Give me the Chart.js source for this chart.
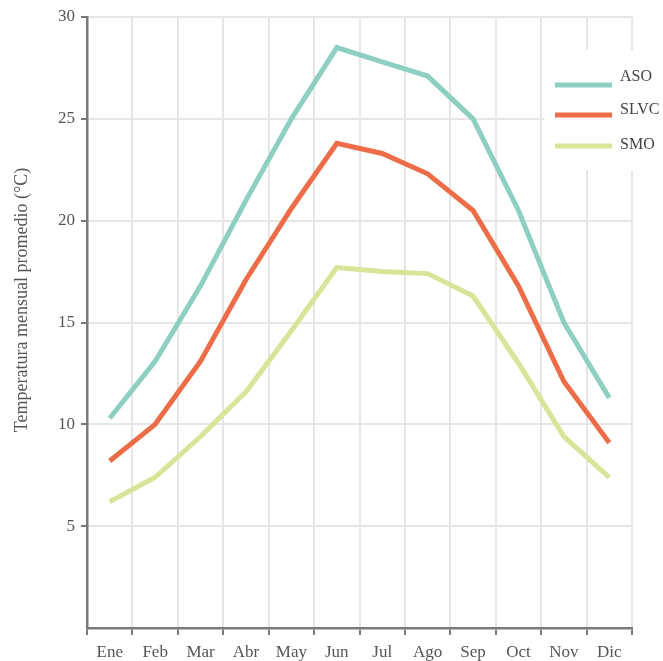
<!DOCTYPE html>
<html>
<head>
<meta charset="utf-8">
<title>Temperatura mensual promedio</title>
<script src="https://cdn.jsdelivr.net/npm/chart.js@4/dist/chart.umd.min.js"></script>
<style>
  html, body { margin:0; padding:0; background:#fff; }
  #wrap { width:663px; height:661px; position:relative; }
</style>
</head>
<body>
<div id="wrap"><canvas id="tempChart" width="663" height="661"></canvas></div>
<script>
/* monthly mean temperature, three stations */
const MONTHS = ['Ene','Feb','Mar','Abr','May','Jun','Jul','Ago','Sep','Oct','Nov','Dic'];
const ASO  = [10.3, 13.1, 16.8, 21.0, 25.0, 28.5, 27.8, 27.1, 25.0, 20.5, 15.0, 11.3];
const SLVC = [ 8.2, 10.0, 13.1, 17.1, 20.6, 23.8, 23.3, 22.3, 20.5, 16.8, 12.1,  9.1];
const SMO  = [ 6.2,  7.4,  9.4, 11.6, 14.6, 17.7, 17.5, 17.4, 16.3, 13.0,  9.4,  7.4];
const SERIES_NAMES = ['ASO','SLVC','SMO'];
const Y_TITLE = 'Temperatura mensual promedio (°C)';

const COLORS = ['#8dcfc1', '#ec6d47', '#d7e598'];
const FONT = '"Liberation Serif", "DejaVu Serif", serif';
const AXIS = '#7a7a7a', GRID = '#e6e6e6', TXT = '#555';

// legend + y title drawn on top of the plot (legend sits inside the plot area)
const overlay = {
  id: 'overlay',
  afterDraw(chart){
    const ctx = chart.ctx;
    ctx.save();
    ctx.fillStyle = '#fff';
    ctx.fillRect(544, 50, 119, 120);
    const lineY = [85, 115, 146], textY = [77, 110, 145];
    chart.data.datasets.forEach((ds, i) => {
      ctx.strokeStyle = ds.borderColor;
      ctx.lineWidth = 5;
      ctx.beginPath(); ctx.moveTo(555, lineY[i]); ctx.lineTo(612, lineY[i]); ctx.stroke();
      ctx.fillStyle = '#444';
      ctx.font = '16px ' + FONT;
      ctx.textBaseline = 'middle';
      ctx.fillText(ds.label, 620, textY[i]);
    });
    ctx.translate(22, 300);
    ctx.rotate(-Math.PI/2);
    ctx.textAlign = 'center';
    ctx.textBaseline = 'middle';
    ctx.fillStyle = TXT;
    ctx.font = '18px ' + FONT;
    ctx.fillText(Y_TITLE, 0, 0);
    ctx.restore();
  }
};

new Chart(document.getElementById('tempChart'), {
  type: 'line',
  data: {
    labels: MONTHS,
    datasets: [ASO, SLVC, SMO].map((vals, i) => ({
      label: SERIES_NAMES[i], data: vals,
      borderColor: COLORS[i], backgroundColor: COLORS[i],
      borderWidth: 5, pointRadius: 0, tension: 0, fill: false
    }))
  },
  options: {
    responsive: false, animation: false,
    layout: { padding: { top: 17, right: 31, left: 0, bottom: 0 } },
    plugins: { legend: { display: false }, tooltip: { enabled: false } },
    scales: {
      x: {
        offset: true,
        grid: { offset: true, color: GRID, lineWidth: 2, tickColor: AXIS, tickLength: 7, tickWidth: 2 },
        border: { color: AXIS, width: 2.5 },
        ticks: { color: TXT, font: { family: FONT, size: 17 }, padding: 7, maxRotation: 0 },
        afterFit(s){ s.height = 33; }
      },
      y: {
        min: 0, max: 30,
        grid: { color: GRID, lineWidth: 2, tickColor: AXIS, tickLength: 6, tickWidth: 2 },
        border: { color: AXIS, width: 2.5 },
        ticks: { stepSize: 5, color: TXT, font: { family: FONT, size: 17 }, padding: 6,
                 callback: v => v === 0 ? null : v },
        afterFit(s){ s.width = 87; }
      }
    }
  },
  plugins: [overlay]
});
</script>
</body>
</html>
